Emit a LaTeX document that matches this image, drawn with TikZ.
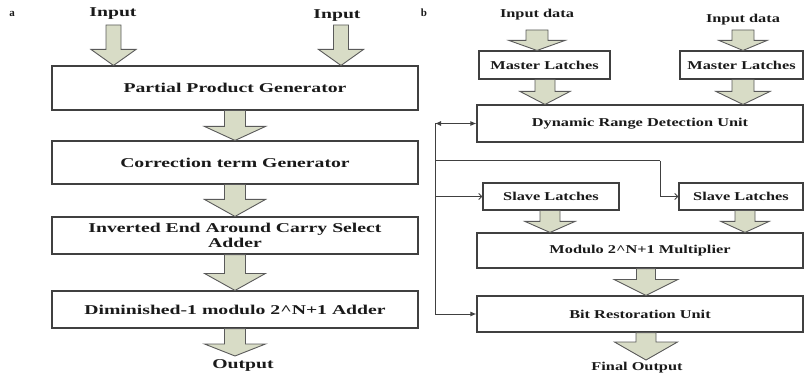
\documentclass[tikz,border=0pt]{standalone}
\usepackage{fontspec}
\setmainfont{Liberation Serif}
\newfontfamily\wideA{Liberation Serif}[FakeStretch=1.46]
\newfontfamily\wideB{Liberation Serif}[FakeStretch=1.36]
\usetikzlibrary{arrows.meta,calc}

\definecolor{arrowfill}{HTML}{D8DCC6}
\definecolor{arrowline}{HTML}{5A5A5A}
\definecolor{boxline}{HTML}{404040}
\definecolor{ink}{HTML}{1A1A1A}

% Block arrow: centre x, start point, tip point, half shaft width,
% half head width, head length (all in pt)
\newcommand\fatarrow[6]{%
  \filldraw[fatarrowstyle] let \p1=(#2), \p2=(#3) in
    (#1pt-#4pt,\y1) -- (#1pt+#4pt,\y1) -- (#1pt+#4pt,\y2+#6pt)
    -- (#1pt+#5pt,\y2+#6pt) -- (#1pt,\y2) -- (#1pt-#5pt,\y2+#6pt)
    -- (#1pt-#4pt,\y2+#6pt) -- cycle;}

\begin{document}
\begin{tikzpicture}[x=1pt,y=-1pt,
  fatarrowstyle/.style={fill=arrowfill,draw=arrowline,line width=0.9pt,line join=miter},
  boxA/.style={draw=boxline,line width=1.1pt,fill=white,inner sep=0pt,
    minimum width=366pt,align=center,text=ink,
    font=\wideA\bfseries\fontsize{13.5}{16}\selectfont},
  boxB/.style={draw=boxline,line width=1.1pt,fill=white,inner sep=0pt,
    align=center,text=ink,font=\wideB\bfseries\fontsize{12}{14}\selectfont},
  lblA/.style={text=ink,inner sep=0pt,font=\wideA\bfseries\fontsize{13.5}{16}\selectfont},
  lblB/.style={text=ink,inner sep=0pt,font=\wideB\bfseries\fontsize{12}{14}\selectfont},
  panel/.style={text=ink,inner sep=0pt,font=\bfseries\fontsize{11}{13}\selectfont},
  wire/.style={draw=boxline,line width=1pt},
]
\useasboundingbox (0,0) rectangle (804,377);

% ---------------- panel a ----------------
\node[panel] (la) at (12,14) {a};
\node[lblA] (inA1) at (113,14) {Input};
\node[lblA] (inA2) at (337,16) {Input};

\node[boxA,minimum height=44pt] (pp) at (235,88) {Partial Product Generator};
\node[boxA,minimum height=43pt] (ct) at (235,162.5) {Correction term Generator};
\node[boxA,minimum height=37pt] (ie) at (235,235.5) {Inverted End Around Carry Select\\[-1pt]Adder};
\node[boxA,minimum height=37pt] (dm) at (235,309.5) {Diminished-1 modulo 2\^{}N+1 Adder};
\node[lblA] (outA) at (243,365) {Output};

\coordinate (a1top) at (113,25);
\coordinate (a2top) at (341,25);
\fatarrow{113.5}{a1top}{pp.north}{7.5}{22.5}{16}
\fatarrow{341}{a2top}{pp.north}{7.5}{22.5}{16}
\fatarrow{235}{pp.south}{ct.north}{10.5}{30.5}{14}
\fatarrow{235}{ct.south}{ie.north}{10.5}{30.5}{17}
\fatarrow{235}{ie.south}{dm.north}{10.5}{30.5}{17}
\coordinate (outAtip) at (235,356);
\fatarrow{235}{dm.south}{outAtip}{10.5}{30.5}{12}

% ---------------- panel b ----------------
\node[panel] (lb) at (424,13) {b};
\node[lblB] (inB1) at (537,15) {Input data};
\node[lblB] (inB2) at (743,20) {Input data};

\node[boxB,minimum width=131pt,minimum height=28pt] (mlL) at (544.5,65) {Master Latches};
\node[boxB,minimum width=123pt,minimum height=28pt] (mlR) at (741.5,65) {Master Latches};
\node[boxB,minimum width=326pt,minimum height=37pt] (drdu) at (640,123.5) {Dynamic Range Detection Unit};
\node[boxB,minimum width=136pt,minimum height=27pt] (slL) at (551,196.5) {Slave Latches};
\node[boxB,minimum width=124pt,minimum height=27pt] (slR) at (741,196.5) {Slave Latches};
\node[boxB,minimum width=326pt,minimum height=35pt] (mul) at (640,250.5) {Modulo 2\^{}N+1 Multiplier};
\node[boxB,minimum width=326pt,minimum height=36pt] (bru) at (640,314) {Bit Restoration Unit};
\node[lblB] (outB) at (637,368) {Final Output};

\coordinate (b1top) at (537,30);
\coordinate (b2top) at (743,30);
\fatarrow{537}{b1top}{mlL.north}{11}{28}{10}
\fatarrow{743}{b2top}{mlR.north}{11}{24}{10}
\fatarrow{545}{mlL.south}{drdu.north}{10}{25}{13}
\fatarrow{743}{mlR.south}{drdu.north}{11}{27}{13}
\fatarrow{550}{slL.south}{mul.north}{10}{25}{11}
\fatarrow{745}{slR.south}{mul.north}{10}{24}{11}
\fatarrow{646}{mul.south}{bru.north}{9.5}{32}{16}
\coordinate (outBtip) at (646,360);
\fatarrow{646}{bru.south}{outBtip}{10}{31.5}{18}

% control bus on the left
\coordinate (bus) at (435,123.5);
\coordinate (turn) at (660,161);
\draw[wire,{Latex[length=6pt,width=5pt]}-{Latex[length=6pt,width=5pt]}]
  (bus) -- (drdu.west);
\draw[wire,-{Latex[length=6pt,width=5pt]}] (bus) -- (bus |- bru.west) -- (bru.west);
\draw[wire] (bus |- turn) -- (turn);
\draw[wire,-{Straight Barb[length=3pt,width=6pt]}] (turn) |- (slR.west);
\draw[wire,-{Straight Barb[length=3pt,width=6pt]}] (bus |- slL.west) -- (slL.west);
\end{tikzpicture}
\end{document}
